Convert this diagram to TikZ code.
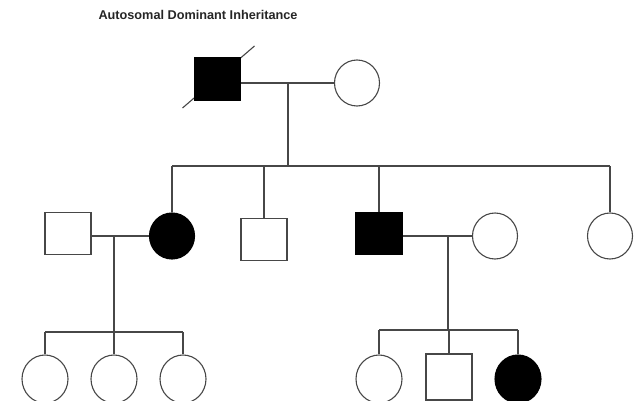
\documentclass[tikz,border=0pt]{standalone}
\usepackage{fontspec}
\setmainfont{Liberation Sans}
\usetikzlibrary{shapes.geometric,backgrounds}
\begin{document}
\begin{tikzpicture}[x=1pt,y=-1pt,
  ln/.style={draw=black!72, line width=1.1pt},
  male/.style={ln, rectangle, minimum width=46pt, minimum height=42pt, inner sep=0pt},
  female/.style={ln, ellipse, minimum width=45pt, minimum height=46pt, inner sep=0pt},
  kid/.style={ln, ellipse, minimum width=46pt, minimum height=48pt, inner sep=0pt},
  aff/.style={fill=black, draw=black},
  title/.style={font=\bfseries\fontsize{12.7}{14}\selectfont, text=black!85, inner sep=0pt}]
\useasboundingbox (0,0) rectangle (637,401);
\node[title] (t) at (198,15) {Autosomal Dominant Inheritance};
% generation I
\node[male,aff] (f1) at (217.5,79) {};
\node[female] (m1) at (357,83) {};
\begin{scope}[on background layer]
\fill[white] (0,0) rectangle (637,401);
\draw[ln] ([shift={(-35,29)}]f1.center) -- ([shift={(37,-33)}]f1.center);
\end{scope}
\draw[ln] (m1.west) -- (m1.west -| f1.east);
\coordinate (d1) at (288,83);
\coordinate (s1) at (288,166);
\draw[ln] (d1) -- (s1);
% generation II
\node[female,aff] (a2) at (172,236) {};
\node[male] (b2) at (264,239.5) {};
\node[male,aff] (c2) at (379,233.5) {};
\node[female] (r2) at (610,236) {};
\node[male] (h2) at (68,233.5) {};
\node[female] (w2) at (495,236) {};
\draw[ln] (a2.north |- s1) -- (r2.north |- s1);
\draw[ln] (a2.north |- s1) -- (a2.north);
\draw[ln] (b2.north |- s1) -- (b2.north);
\draw[ln] (c2.north |- s1) -- (c2.north);
\draw[ln] (r2.north |- s1) -- (r2.north);
\draw[ln] (a2.west) -- (a2.west -| h2.east);
\draw[ln] (w2.west) -- (w2.west -| c2.east);
\coordinate (d2) at (114,236);
\coordinate (s2) at (114,332);
\coordinate (d3) at (448,236);
\coordinate (s3) at (448,330);
\draw[ln] (d2) -- (s2);
\draw[ln] (d3) -- (s3);
% generation III
\node[kid] (g1) at (45,379) {};
\node[kid] (g2) at (114,379) {};
\node[kid] (g3) at (183,379) {};
\node[kid] (k1) at (379,379) {};
\node[male, minimum height=46pt] (k2) at (449,377) {};
\node[kid,aff] (k3) at (518,379) {};
\draw[ln] (g1.north |- s2) -- (g3.north |- s2);
\draw[ln] (g1.north |- s2) -- (g1.north);
\draw[ln] (g2.north |- s2) -- (g2.north);
\draw[ln] (g3.north |- s2) -- (g3.north);
\draw[ln] (k1.north |- s3) -- (k3.north |- s3);
\draw[ln] (k1.north |- s3) -- (k1.north);
\draw[ln] (k2.north |- s3) -- (k2.north);
\draw[ln] (k3.north |- s3) -- (k3.north);
\end{tikzpicture}
\end{document}
